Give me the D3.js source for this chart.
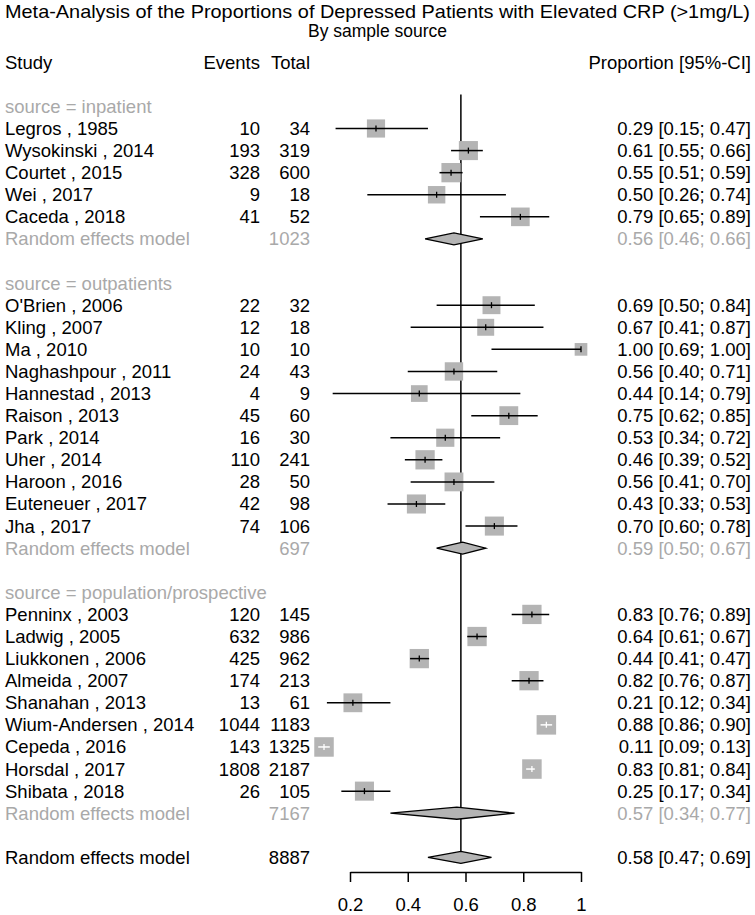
<!DOCTYPE html>
<html>
<head>
<meta charset="utf-8">
<script src="https://cdn.jsdelivr.net/npm/d3@7"></script>
<style>
  body { margin: 0; background: #fff; }
  svg text { font-family: "Liberation Sans", Arial, Helvetica, sans-serif; }
</style>
</head>
<body>
<svg id="chart" width="755" height="915"></svg>
<script>
// subgroups
var groups = ["inpatient", "outpatients", "population/prospective"];
var groupTotal = [1023, 697, 7167];
var groupEst = [0.56, 0.59, 0.57];
var groupLo = [0.46, 0.50, 0.34];
var groupHi = [0.66, 0.67, 0.77];

// studies (group index, name, year, events, total, proportion, CI, weight %)
var studyGroup = [0, 0, 0, 0, 0,
  1, 1, 1, 1, 1, 1, 1, 1, 1, 1, 1,
  2, 2, 2, 2, 2, 2, 2, 2, 2];
var studyName = ["Legros", "Wysokinski", "Courtet", "Wei", "Caceda",
  "O'Brien", "Kling", "Ma", "Naghashpour", "Hannestad", "Raison", "Park", "Uher", "Haroon", "Euteneuer", "Jha",
  "Penninx", "Ladwig", "Liukkonen", "Almeida", "Shanahan", "Wium-Andersen", "Cepeda", "Horsdal", "Shibata"];
var studyYear = [1985, 2014, 2015, 2017, 2018,
  2006, 2007, 2010, 2011, 2013, 2013, 2014, 2014, 2016, 2017, 2017,
  2003, 2005, 2006, 2007, 2013, 2014, 2016, 2017, 2018];
var events = [10, 193, 328, 9, 41,
  22, 12, 10, 24, 4, 45, 16, 110, 28, 42, 74,
  120, 632, 425, 174, 13, 1044, 143, 1808, 26];
var totals = [34, 319, 600, 18, 52,
  32, 18, 10, 43, 9, 60, 30, 241, 50, 98, 106,
  145, 986, 962, 213, 61, 1183, 1325, 2187, 105];
var prop = [0.29, 0.61, 0.55, 0.50, 0.79,
  0.69, 0.67, 1.00, 0.56, 0.44, 0.75, 0.53, 0.46, 0.56, 0.43, 0.70,
  0.83, 0.64, 0.44, 0.82, 0.21, 0.88, 0.11, 0.83, 0.25];
var lower = [0.15, 0.55, 0.51, 0.26, 0.65,
  0.50, 0.41, 0.69, 0.40, 0.14, 0.62, 0.34, 0.39, 0.41, 0.33, 0.60,
  0.76, 0.606, 0.408, 0.76, 0.12, 0.86, 0.09, 0.81, 0.17];
var upper = [0.47, 0.66, 0.59, 0.74, 0.89,
  0.84, 0.87, 1.00, 0.71, 0.79, 0.85, 0.72, 0.52, 0.70, 0.53, 0.78,
  0.89, 0.674, 0.474, 0.87, 0.34, 0.90, 0.13, 0.84, 0.34];
var weight = [3.9, 4.3, 4.4, 3.6, 4.1,
  3.8, 3.4, 1.9, 4.0, 3.3, 4.2, 3.9, 4.4, 4.2, 4.3, 4.3,
  4.4, 4.4, 4.4, 4.4, 4.2, 4.5, 4.5, 4.5, 4.3];

// overall random effects
var overallTotal = 8887;
var overallEst = 0.584;
var overallLo = 0.47;
var overallHi = 0.69;

var xTicks = [0.2, 0.4, 0.6, 0.8, 1];

var svg = d3.select("#chart");
var grey = "#a9a9a9";
var sqFill = "#b4b4b4";
var fs = 18.5;
var f2 = d3.format(".2f");

var x = d3.scaleLinear().domain([0.2, 1]).range([350, 581]);
var y = d3.scaleLinear().domain([0, 34]).range([106.4, 857.4]);
var side = d3.scaleSqrt().domain([0, 4.5]).range([0, 19.5]);

var colStudy = 5, colEvents = 260, colTotal = 310, colCI = 751;

// build row list
var rows = [];
var r = 0;
groups.forEach(function (g, gi) {
    rows.push({type: "header", row: r++, label: "source = " + g});
    studyName.forEach(function (n, i) {
        if (studyGroup[i] != gi) return;
        rows.push({type: "study", row: r++, i: i});
    });
    rows.push({type: "sub", row: r++, gi: gi});
    r++; // blank line
});
rows.push({type: "overall", row: r});

function ciText(e, l, u) {
    return f2(e) + " [" + f2(l) + "; " + f2(u) + "]";
}

function addText(txt, xx, row, anchor, col) {
    svg.append("text")
        .attr("x", xx)
        .attr("y", y(row) + 6.5)
        .attr("text-anchor", anchor)
        .attr("font-size", fs)
        .attr("fill", col)
        .text(txt);
}

// title
var title = svg.append("text")
    .attr("x", 377.5).attr("y", 18)
    .attr("text-anchor", "middle")
    .attr("font-size", 19)
    .text("Meta-Analysis of the Proportions of Depressed Patients with Elevated CRP (>1mg/L)");
title.attr("textLength", 745).attr("lengthAdjust", "spacingAndGlyphs");
svg.append("text")
    .attr("x", 377.5).attr("y", 37)
    .attr("text-anchor", "middle")
    .attr("font-size", 17.5)
    .text("By sample source");

// column headers
addText("Study", colStudy, -2, "start", "#000");
addText("Events", colEvents, -2, "end", "#000");
addText("Total", colTotal, -2, "end", "#000");
addText("Proportion [95%-CI]", colCI, -2, "end", "#000");

// reference line at overall estimate
svg.append("line")
    .attr("x1", x(overallEst)).attr("x2", x(overallEst))
    .attr("y1", y(0) - 12).attr("y2", y(34))
    .attr("stroke", "#000").attr("stroke-width", 1.5);

function diamond(e, l, u, row) {
    var cy = y(row), h = 6;
    svg.append("path")
        .attr("d", "M" + x(l) + "," + cy + "L" + x(e) + "," + (cy - h) +
            "L" + x(u) + "," + cy + "L" + x(e) + "," + (cy + h) + "Z")
        .attr("fill", sqFill)
        .attr("stroke", "#000")
        .attr("stroke-width", 1.3);
}

rows.forEach(function (d) {
    if (d.type == "header") {
        addText(d.label, colStudy, d.row, "start", grey);
    } else if (d.type == "study") {
        var i = d.i;
        addText(studyName[i] + " , " + studyYear[i], colStudy, d.row, "start", "#000");
        addText(events[i], colEvents, d.row, "end", "#000");
        addText(totals[i], colTotal, d.row, "end", "#000");
        addText(ciText(prop[i], lower[i], upper[i]), colCI, d.row, "end", "#000");

        var cx = x(prop[i]), cy = y(d.row), s = side(weight[i]);
        svg.append("rect")
            .attr("x", cx - s / 2).attr("y", cy - s / 2)
            .attr("width", s).attr("height", s)
            .attr("fill", sqFill);
        // white lines when the CI sits inside the square
        var inside = x(lower[i]) > cx - s / 2 && x(upper[i]) < cx + s / 2;
        var lc = inside ? "#fff" : "#000";
        svg.append("line")
            .attr("x1", x(lower[i])).attr("x2", x(upper[i]))
            .attr("y1", cy).attr("y2", cy)
            .attr("stroke", lc).attr("stroke-width", 1.5);
        svg.append("line")
            .attr("x1", cx).attr("x2", cx)
            .attr("y1", cy - 3).attr("y2", cy + 3)
            .attr("stroke", lc).attr("stroke-width", 1.3);
    } else if (d.type == "sub") {
        var gi = d.gi;
        addText("Random effects model", colStudy, d.row, "start", grey);
        addText(groupTotal[gi], colTotal, d.row, "end", grey);
        addText(ciText(groupEst[gi], groupLo[gi], groupHi[gi]), colCI, d.row, "end", grey);
        diamond(groupEst[gi], groupLo[gi], groupHi[gi], d.row);
    } else {
        addText("Random effects model", colStudy, d.row, "start", "#000");
        addText(overallTotal, colTotal, d.row, "end", "#000");
        addText(ciText(overallEst, overallLo, overallHi), colCI, d.row, "end", "#000");
        diamond(overallEst, overallLo, overallHi, d.row);
    }
});

// x axis
var axis = d3.axisBottom(x)
    .tickValues(xTicks)
    .tickFormat(function (d) { return d == 1 ? "1" : d3.format(".1f")(d); })
    .tickSizeInner(10)
    .tickSizeOuter(0)
    .tickPadding(16);
var gAx = svg.append("g")
    .attr("transform", "translate(0,872)")
    .call(axis);
gAx.select(".domain").attr("stroke-width", 1.5);
gAx.selectAll(".tick line").attr("stroke-width", 1.5);
gAx.selectAll(".tick text")
    .attr("font-size", fs)
    .attr("font-family", "Liberation Sans, Arial, sans-serif");
</script>
</body>
</html>
